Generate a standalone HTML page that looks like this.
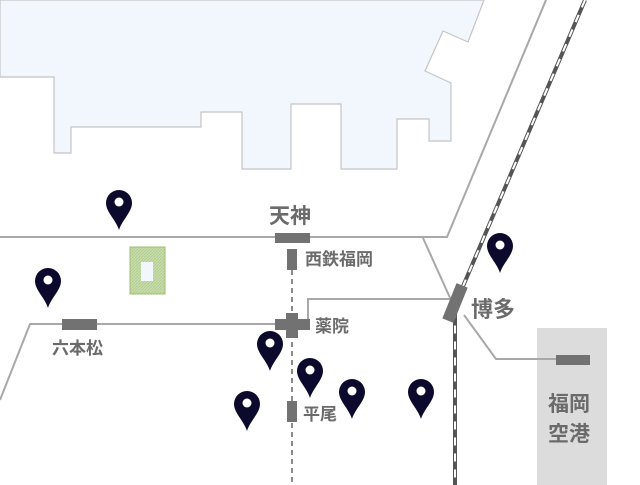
<!DOCTYPE html>
<html><head><meta charset="utf-8"><style>
html,body{margin:0;padding:0;background:#fff;}
svg{display:block;}
text{font-family:"Liberation Sans","Noto Sans CJK JP",sans-serif;fill:#6b6b6b;font-weight:bold;}
</style></head><body>
<svg width="640" height="485" viewBox="0 0 640 485" xmlns="http://www.w3.org/2000/svg">
<defs>
<symbol id="pin" viewBox="-14 -40 28 40" overflow="visible">
<path d="M0 0 C-3 -10 -13 -18 -13 -27 A13 13 0 1 1 13 -27 C13 -18 3 -10 0 0 Z" fill="#0b0a2c"/>
<circle cx="0" cy="-28" r="4.5" fill="#fff"/>
</symbol>
<pattern id="hatch" width="3" height="3" patternUnits="userSpaceOnUse">
<rect width="3" height="3" fill="#c9dcae"/><path d="M0 3 L3 0" stroke="#b3cc8e" stroke-width="1"/>
</pattern>
</defs>
<polygon points="0,0 484,0 468,42 443,31 425,71 451,83 451,141 429,141 429,119 397,119 397,169 341,169 341,104 291,104 291,169 242,169 242,112 201,112 201,127 71,127 71,153 54,153 54,77 0,77" fill="#f2f7fe" stroke="#c4c4c4" stroke-width="1.2"/>
<rect x="537" y="328" width="70" height="157" fill="#dcdcdc"/>
<g fill="none" stroke="#a8a8a8" stroke-width="2">
<polyline points="0,237 447,237 546,0"/>
<polyline points="423,238 451,300"/>
<polyline points="464,315 496,359 556,359"/>
<polyline points="308,325 308,299 451,299"/>
<polyline points="0,400 30,324 290,324"/>
</g>
<line x1="292" y1="270" x2="292" y2="485" stroke="#666" stroke-width="1.5" stroke-dasharray="5,4"/>
<g fill="none">
<polyline points="585,0 455,305 455,485" stroke="#555" stroke-width="4"/>
<polyline points="585,0 455,305 455,485" stroke="#fff" stroke-width="2" stroke-dasharray="8,8"/>
</g>
<rect x="130" y="247" width="35" height="47" fill="url(#hatch)" stroke="#9cc070" stroke-width="1"/>
<rect x="141" y="262" width="12" height="19" fill="#f2f7fe"/>
<g fill="#727272">
<rect x="275" y="233" width="35" height="10"/>
<rect x="287" y="249" width="10" height="21"/>
<rect x="275" y="319" width="35" height="11"/>
<rect x="286" y="313" width="12" height="25"/>
<rect x="62" y="319" width="35" height="11"/>
<rect x="287" y="401" width="10" height="21"/>
<rect x="556" y="355" width="34" height="10"/>
<rect x="-6" y="-19" width="12" height="38" transform="translate(455,303) rotate(22)"/>
</g>
<text x="269" y="223" font-size="21">天神</text>
<text x="305" y="265" font-size="17">西鉄福岡</text>
<text x="315" y="332" font-size="17">薬院</text>
<text x="52" y="354" font-size="17">六本松</text>
<text x="303" y="420" font-size="17">平尾</text>
<text x="471" y="317" font-size="22">博多</text>
<text x="548" y="411" font-size="21">福岡</text>
<text x="548" y="441" font-size="21">空港</text>
<use href="#pin" x="105" y="190" width="28" height="40"/>
<use href="#pin" x="34" y="268" width="28" height="40"/>
<use href="#pin" x="256" y="331" width="28" height="40"/>
<use href="#pin" x="296" y="358" width="28" height="40"/>
<use href="#pin" x="233" y="391" width="28" height="40"/>
<use href="#pin" x="338" y="379" width="28" height="40"/>
<use href="#pin" x="407" y="379" width="28" height="40"/>
<use href="#pin" x="486" y="233" width="28" height="40"/>
</svg>
</body></html>
